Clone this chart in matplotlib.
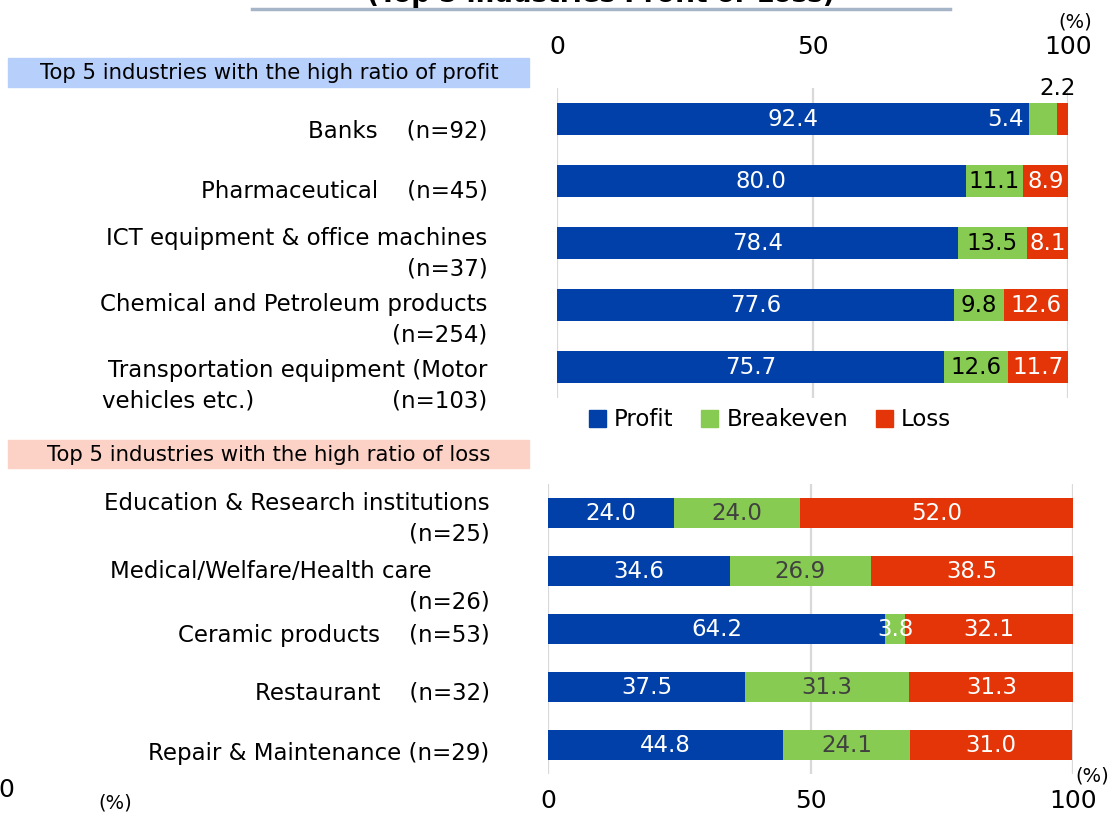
import numpy as np
import matplotlib.pyplot as plt
from matplotlib.patches import Rectangle, Patch
from matplotlib.transforms import ScaledTranslation

plt.rcParams['font.family'] = ['DejaVu Sans']

# top panel: highest ratio of profit
top_labels = ["Banks    (n=92)",
              "Pharmaceutical    (n=45)",
              "ICT equipment & office machines\n(n=37)",
              "Chemical and Petroleum products\n(n=254)",
              "Transportation equipment (Motor\nvehicles etc.)                   (n=103)"]
top_profit = [92.4, 80.0, 78.4, 77.6, 75.7]
top_even = [5.4, 11.1, 13.5, 9.8, 12.6]
top_loss = [2.2, 8.9, 8.1, 12.6, 11.7]

# bottom panel: highest ratio of loss
bot_labels = ["Education & Research institutions\n(n=25)",
              "Medical/Welfare/Health care        \n(n=26)",
              "Ceramic products    (n=53)",
              "Restaurant    (n=32)",
              "Repair & Maintenance (n=29)"]
bot_profit = [24.0, 34.6, 64.2, 37.5, 44.8]
bot_even = [24.0, 26.9, 3.8, 31.3, 24.1]
bot_loss = [52.0, 38.5, 32.1, 31.3, 31.0]

legend_names = ["Profit", "Breakeven", "Loss"]
ticks = [0, 50, 100]

BLUE = '#0040a8'
GREEN = '#88cb52'
RED = '#e33507'
W, H = 1111, 816
FS = 16.5

fig = plt.figure(figsize=(W / 100, H / 100), dpi=100)


def fx(px):
    return px / W


def fy(py):
    return 1 - py / H


def panel(ax, labels, prof, even, loss, even_color, label_pad, label_dy):
    y = np.arange(len(labels))
    prof = np.array(prof)
    even = np.array(even)
    loss = np.array(loss)
    ax.barh(y, prof, height=0.52, color=BLUE)
    ax.barh(y, even, left=prof, height=0.52, color=GREEN)
    ax.barh(y, loss, left=prof + even, height=0.52, color=RED)
    for i in range(len(y)):
        ax.text(prof[i] / 2, y[i], f"{prof[i]:.1f}", color='white',
                ha='center', va='center', fontsize=FS)
        if even[i] < 6 and loss[i] < 3:
            # too narrow: breakeven goes inside the blue, loss above the bar
            ax.text(prof[i] - 1, y[i], f"{even[i]:.1f}", color='white',
                    ha='right', va='center', fontsize=FS)
            ax.text(prof[i] + even[i] + loss[i] / 2 - 1, y[i] - 0.3,
                    f"{loss[i]:.1f}", color='black', ha='center',
                    va='bottom', fontsize=FS)
        else:
            c = 'white' if even[i] < 5 else even_color
            ax.text(prof[i] + even[i] / 2, y[i], f"{even[i]:.1f}", color=c,
                    ha='center', va='center', fontsize=FS)
            ax.text(prof[i] + even[i] + loss[i] / 2, y[i], f"{loss[i]:.1f}",
                    color='white', ha='center', va='center', fontsize=FS)
    ax.set_xlim(0, 100)
    ax.set_ylim(len(y) - 0.5, -0.5)
    ax.set_xticks(ticks)
    ax.set_yticks(y)
    ax.set_yticklabels(labels, fontsize=FS, linespacing=1.45)
    ax.tick_params(axis='y', length=0, pad=label_pad)
    ax.tick_params(axis='x', length=0, labelsize=18)
    ax.grid(axis='x', color='#d9d9d9', lw=1.6)
    ax.set_axisbelow(True)
    for s in ax.spines.values():
        s.set_visible(False)
    for lab, dy in zip(ax.get_yticklabels(), label_dy):
        lab.set_transform(lab.get_transform() +
                          ScaledTranslation(0, -dy / 100, fig.dpi_scale_trans))


ax1 = fig.add_axes([fx(557), fy(398), fx(511), 310 / H])
panel(ax1, top_labels, top_profit, top_even, top_loss, 'black', 50,
      [9, 7, 4, 8, 12])
ax1.xaxis.tick_top()
ax1.tick_params(axis='x', pad=21)

ax2 = fig.add_axes([fx(548), fy(774), fx(525), 290 / H])
panel(ax2, bot_labels, bot_profit, bot_even, bot_loss, '#404040', 42,
      [-1, 9, 4, 3, 6])
ax2.tick_params(axis='x', pad=11)

# legend
handles = [Patch(color=c) for c in (BLUE, GREEN, RED)]
fig.legend(handles, legend_names, loc='center', ncol=3, frameon=False,
           bbox_to_anchor=(fx(770), fy(420)), fontsize=16.5, handlelength=0.75,
           handleheight=0.75, handletextpad=0.35, columnspacing=1.2)

# section headers
fig.patches.append(Rectangle((fx(8), fy(87)), fx(521), 29 / H,
                             transform=fig.transFigure, color='#b7cffb', zorder=0))
fig.text(fx(269), fy(73), "Top 5 industries with the high ratio of profit",
         ha='center', va='center', fontsize=15.3)
fig.patches.append(Rectangle((fx(8), fy(468)), fx(521), 28 / H,
                             transform=fig.transFigure, color='#fcd2c6', zorder=0))
fig.text(fx(269), fy(455), "Top 5 industries with the high ratio of loss",
         ha='center', va='center', fontsize=15.3)

# clipped title and rule
fig.text(fx(601), fy(2), "(Top 5 industries Profit or Loss)", ha='center',
         va='baseline', fontsize=18.8, fontweight='bold')
fig.add_artist(plt.Line2D([fx(252), fx(950)], [fy(9), fy(9)],
                          color='#a6b4c8', lw=2.5, transform=fig.transFigure))

# unit marks and leftovers
fig.text(fx(1075), fy(22), "(%)", ha='center', va='center', fontsize=14)
fig.text(fx(1092), fy(776), "(%)", ha='center', va='center', fontsize=14)
fig.text(fx(115), fy(803), "(%)", ha='center', va='center', fontsize=14)
fig.text(fx(6), fy(790), "0", ha='center', va='center', fontsize=18)

fig.savefig('out.png', dpi=100)
